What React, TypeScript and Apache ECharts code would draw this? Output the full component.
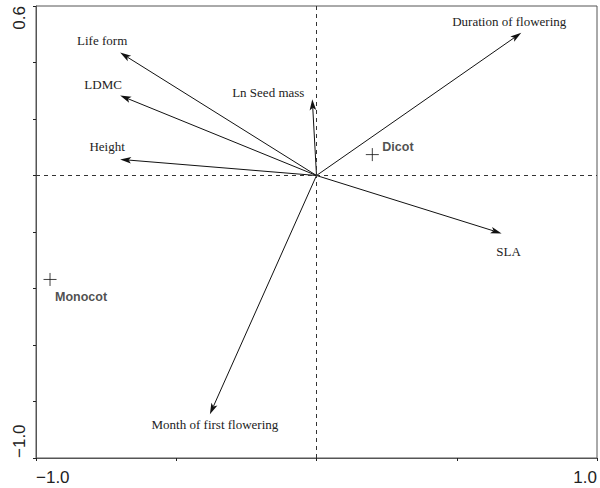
import React, { useEffect, useRef } from "react";
import * as echarts from "echarts";

// Trait vectors (arrow tips, ordination axis 1 / axis 2)
const traitNames = [
  "Life form",
  "LDMC",
  "Height",
  "Ln Seed mass",
  "Duration of flowering",
  "SLA",
  "Month of first flowering",
];
const traitX = [-0.7, -0.7, -0.7, -0.015, 0.73, 0.66, -0.38];
const traitY = [0.435, 0.283, 0.057, 0.27, 0.505, -0.205, -0.845];

// Group centroids
const groupNames = ["Dicot", "Monocot"];
const groupX = [0.199, -0.95];
const groupY = [0.074, -0.368];

// Axis ticks
const xTickLabels: Record<string, string> = { "-1": "\u22121.0", "1": "1.0" };
const yTickLabels: Record<string, string> = { "-1": "\u22121.0", "0.6": "0.6" };

// Label placement (style, pixels relative to arrow tip / point)
const traitLabelDx = [-18, -17, -13, -44, -12, 7, 5];
const traitLabelDy = [-12, -11, -13, -7, -11, 18, 10];
const groupLabelDx = [10, 5];
const groupLabelDy = [-8, 18];

const SERIF = "'Liberation Serif', 'Times New Roman', 'DejaVu Serif', serif";
const SANS = "'Liberation Sans', Arial, sans-serif";

const keyOf = (v: number) => String(Math.round(v * 10) / 10);

export default function App() {
  const ref = useRef<HTMLDivElement>(null);
  useEffect(() => {
    if (!ref.current) return;
    const chart = echarts.init(ref.current, null, { renderer: "svg" });
    const axisColor = "#555";
    chart.setOption({
      animation: false,
      backgroundColor: "#fff",
      textStyle: { fontFamily: SANS },
      grid: {
        left: 36,
        right: 2,
        top: 6,
        bottom: 30,
        show: true,
        borderColor: axisColor,
        borderWidth: 1,
      },
      xAxis: {
        type: "value",
        min: -1,
        max: 1,
        interval: 0.5,
        splitLine: { show: false },
        axisLine: { show: true, onZero: false, lineStyle: { color: axisColor } },
        axisTick: { show: true, length: 3, lineStyle: { color: "#222" } },
        axisLabel: {
          interval: 0,
          showMinLabel: true,
          showMaxLabel: true,
          margin: 11,
          fontSize: 17,
          fontFamily: SANS,
          color: "#222",
          alignMinLabel: "left",
          alignMaxLabel: "right",
          formatter: (v: number) => xTickLabels[keyOf(v)] || "",
        },
      },
      yAxis: {
        type: "value",
        min: -1,
        max: 0.6,
        interval: 0.2,
        splitLine: { show: false },
        axisLine: { show: true, onZero: false, lineStyle: { color: axisColor } },
        axisTick: { show: true, length: 3, lineStyle: { color: "#222" } },
        axisLabel: {
          interval: 0,
          showMinLabel: true,
          showMaxLabel: true,
          rotate: 90,
          margin: 8,
          fontSize: 17,
          fontFamily: SANS,
          color: "#222",
          alignMinLabel: "left",
          alignMaxLabel: "right",
          formatter: (v: number) => yTickLabels[keyOf(v)] || "",
        },
      },
      series: [
        {
          type: "scatter",
          data: groupNames.map((n, i) => ({
            name: n,
            value: [groupX[i], groupY[i]],
            label: { offset: [groupLabelDx[i], groupLabelDy[i]] },
          })),
          symbol: "path://M0,6H12M6,0V12",
          symbolSize: 13,
          itemStyle: { color: "transparent", borderColor: "#111", borderWidth: 1 },
          label: {
            show: true,
            position: "inside",
            align: "left",
            verticalAlign: "middle",
            formatter: (p: any) => p.name,
            fontFamily: SANS,
            fontWeight: "bold",
            fontSize: 12.5,
            color: "#222",
          },
          markLine: {
            silent: true,
            symbol: "none",
            label: { show: false },
            lineStyle: { color: "#333", type: [4, 4], width: 1 },
            data: [{ xAxis: 0 }, { yAxis: 0 }],
          },
          z: 3,
        },
        {
          type: "custom",
          data: traitX.map((x, i) => [x, traitY[i]]),
          z: 4,
          renderItem: (params: any, api: any) => {
            const i = params.dataIndex;
            const o = api.coord([0, 0]);
            const p = api.coord([api.value(0), api.value(1)]);
            const dx = p[0] - o[0];
            const dy = p[1] - o[1];
            const len = Math.hypot(dx, dy);
            const ux = dx / len;
            const uy = dy / len;
            const L = 11;
            const W = 3.3;
            const N = 8.5;
            const bx = p[0] - ux * L;
            const by = p[1] - uy * L;
            const nx = p[0] - ux * N;
            const ny = p[1] - uy * N;
            const px = -uy;
            const py = ux;
            return {
              type: "group",
              children: [
                {
                  type: "line",
                  shape: { x1: o[0], y1: o[1], x2: nx, y2: ny },
                  style: { stroke: "#111", lineWidth: 1 },
                },
                {
                  type: "polygon",
                  shape: {
                    points: [
                      [p[0], p[1]],
                      [bx + px * W, by + py * W],
                      [nx, ny],
                      [bx - px * W, by - py * W],
                    ],
                  },
                  style: { fill: "#111" },
                },
                {
                  type: "text",
                  x: p[0] + traitLabelDx[i],
                  y: p[1] + traitLabelDy[i],
                  style: {
                    text: traitNames[i],
                    align: "center",
                    verticalAlign: "middle",
                    fontSize: 13,
                    fontFamily: SERIF,
                    fontWeight: "normal",
                    fill: "#222",
                  },
                },
              ],
            };
          },
        },
      ],
    });
    return () => chart.dispose();
  }, []);
  return (
    <div
      ref={ref}
      style={{ position: "fixed", left: 0, top: 0, width: 600, height: 488, background: "#fff" }}
    />
  );
}
